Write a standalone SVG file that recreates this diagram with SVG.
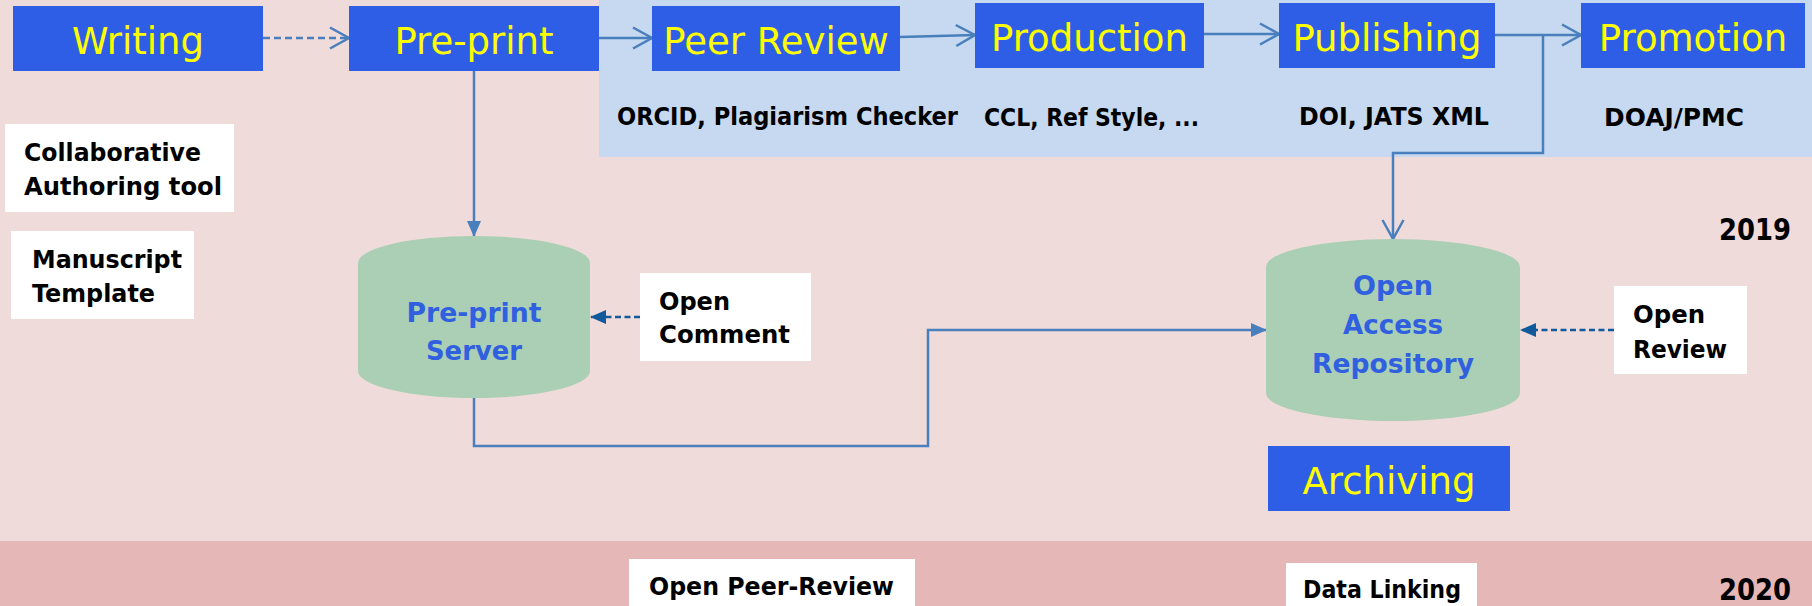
<svg xmlns="http://www.w3.org/2000/svg" width="1812" height="606" viewBox="0 0 1812 606">
<defs>
<style>
.stage{fill:#2f5ee6}
.stage-t{font-family:"DejaVu Sans",sans-serif;font-size:37px;fill:#ffff00;text-anchor:middle}
.lbl{font-family:"DejaVu Sans",sans-serif;font-weight:bold;font-size:24px;fill:#000}
.year{font-family:"DejaVu Sans",sans-serif;font-weight:bold;font-size:30px;fill:#000}
.wbox{fill:#ffffff}
.db{fill:#abcfb4}
.db-t{font-family:"DejaVu Sans",sans-serif;font-weight:bold;font-size:27px;fill:#3060e0;text-anchor:middle}
.conn{fill:none;stroke:#4a7fbd;stroke-width:2.5}
.dash{stroke-dasharray:7 4}
.dark{fill:none;stroke:#105a9c;stroke-width:2.5;stroke-dasharray:6 3.5}
</style>
<marker id="open" markerUnits="userSpaceOnUse" viewBox="-2 -2 24 25" refX="19" refY="10.5" markerWidth="24" markerHeight="25" orient="auto" overflow="visible">
<path d="M0,0 L19,10.5 L0,21" fill="none" stroke="#4a7fbd" stroke-width="2.5"/>
</marker>
<marker id="fill" markerUnits="userSpaceOnUse" viewBox="0 0 16 14" refX="15" refY="7" markerWidth="16" markerHeight="14" orient="auto">
<path d="M0,0 L16,7 L0,14 z" fill="#4a7fbd"/>
</marker>
<marker id="filldark" markerUnits="userSpaceOnUse" viewBox="0 0 16 14" refX="15" refY="7" markerWidth="16" markerHeight="14" orient="auto">
<path d="M0,0 L16,7 L0,14 z" fill="#105a9c"/>
</marker>
</defs>

<rect x="0" y="0" width="1812" height="606" fill="#f0dbdb"/>
<rect x="599" y="0" width="1213" height="157" fill="#c6d9f0"/>
<rect x="0" y="541" width="1812" height="65" fill="#e5b7b7"/>

<g id="connectors">
<line class="conn dash" x1="263" y1="38" x2="349" y2="38" marker-end="url(#open)"/>
<line class="conn" x1="599" y1="38" x2="652" y2="38" marker-end="url(#open)"/>
<line class="conn" x1="900" y1="37" x2="975" y2="35" marker-end="url(#open)"/>
<line class="conn" x1="1204" y1="34" x2="1279" y2="34" marker-end="url(#open)"/>
<line class="conn" x1="1495" y1="35" x2="1581" y2="35" marker-end="url(#open)"/>
<path class="conn" d="M1543,35 V153 H1393 V239" marker-end="url(#open)"/>
<line class="conn" x1="474" y1="71" x2="474" y2="236" marker-end="url(#fill)"/>
<path class="conn" d="M474,398 V446 H928 V330 H1266" marker-end="url(#fill)"/>
<line class="dark" x1="640" y1="317" x2="591" y2="317" marker-end="url(#filldark)"/>
<line class="dark" x1="1614" y1="330" x2="1521" y2="330" marker-end="url(#filldark)"/>
</g>

<g id="writing"><rect class="stage" x="13" y="6" width="250" height="65"/><text class="stage-t" x="138" y="54">Writing</text></g>
<g id="preprint"><rect class="stage" x="349" y="6" width="250" height="65"/><text class="stage-t" x="474" y="54">Pre-print</text></g>
<g id="peerreview"><rect class="stage" x="652" y="6" width="248" height="65"/><text class="stage-t" x="776" y="54">Peer Review</text></g>
<g id="production"><rect class="stage" x="975" y="3" width="229" height="65"/><text class="stage-t" x="1089.5" y="51">Production</text></g>
<g id="publishing"><rect class="stage" x="1279" y="3" width="216" height="65"/><text class="stage-t" x="1387" y="51">Publishing</text></g>
<g id="promotion"><rect class="stage" x="1581" y="3" width="224" height="65"/><text class="stage-t" x="1693" y="51">Promotion</text></g>

<g id="tools">
<text class="lbl" x="617" y="125" textLength="341" lengthAdjust="spacingAndGlyphs">ORCID, Plagiarism Checker</text>
<text class="lbl" x="984" y="126" textLength="215" lengthAdjust="spacingAndGlyphs">CCL, Ref Style, ...</text>
<text class="lbl" x="1299" y="125" textLength="190" lengthAdjust="spacingAndGlyphs">DOI, JATS XML</text>
<text class="lbl" x="1604" y="126" textLength="140" lengthAdjust="spacingAndGlyphs">DOAJ/PMC</text>
</g>

<g id="collab"><rect class="wbox" x="5" y="124" width="229" height="88"/><text class="lbl" x="24" y="161" textLength="177" lengthAdjust="spacingAndGlyphs">Collaborative</text><text class="lbl" x="24" y="195" textLength="198" lengthAdjust="spacingAndGlyphs">Authoring tool</text></g>
<g id="template"><rect class="wbox" x="11" y="231" width="183" height="88"/><text class="lbl" x="32" y="268" textLength="150" lengthAdjust="spacingAndGlyphs">Manuscript</text><text class="lbl" x="32" y="302" textLength="123" lengthAdjust="spacingAndGlyphs">Template</text></g>

<g id="preprint-server">
<path class="db" d="M358,263 A116,27 0 0 1 590,263 V371 A116,27 0 0 1 358,371 Z"/>
<text class="db-t" x="474" y="322" textLength="135" lengthAdjust="spacingAndGlyphs">Pre-print</text>
<text class="db-t" x="474" y="360" textLength="96" lengthAdjust="spacingAndGlyphs">Server</text>
</g>

<g id="open-comment"><rect class="wbox" x="640" y="273" width="171" height="88"/><text class="lbl" x="659" y="310" textLength="71" lengthAdjust="spacingAndGlyphs">Open</text><text class="lbl" x="659" y="343" textLength="131" lengthAdjust="spacingAndGlyphs">Comment</text></g>

<g id="oa-repository">
<path class="db" d="M1266,267 A127,28 0 0 1 1520,267 V393 A127,28 0 0 1 1266,393 Z"/>
<text class="db-t" x="1393" y="295" textLength="80" lengthAdjust="spacingAndGlyphs">Open</text>
<text class="db-t" x="1393" y="334" textLength="100" lengthAdjust="spacingAndGlyphs">Access</text>
<text class="db-t" x="1393" y="373" textLength="162" lengthAdjust="spacingAndGlyphs">Repository</text>
</g>

<g id="open-review"><rect class="wbox" x="1614" y="286" width="133" height="88"/><text class="lbl" x="1633" y="323" textLength="72" lengthAdjust="spacingAndGlyphs">Open</text><text class="lbl" x="1633" y="358" textLength="94" lengthAdjust="spacingAndGlyphs">Review</text></g>

<g id="archiving"><rect class="stage" x="1268" y="446" width="242" height="65"/><text class="stage-t" x="1389" y="494">Archiving</text></g>

<text class="year" x="1719" y="240" textLength="72" lengthAdjust="spacingAndGlyphs">2019</text>

<g id="open-peer-review"><rect class="wbox" x="629" y="559" width="286" height="60"/><text class="lbl" x="649" y="595" textLength="245" lengthAdjust="spacingAndGlyphs">Open Peer-Review</text></g>
<g id="data-linking"><rect class="wbox" x="1286" y="563" width="191" height="56"/><text class="lbl" x="1303" y="598" textLength="158" lengthAdjust="spacingAndGlyphs">Data Linking</text></g>

<text class="year" x="1719" y="600" textLength="72" lengthAdjust="spacingAndGlyphs">2020</text>
</svg>
